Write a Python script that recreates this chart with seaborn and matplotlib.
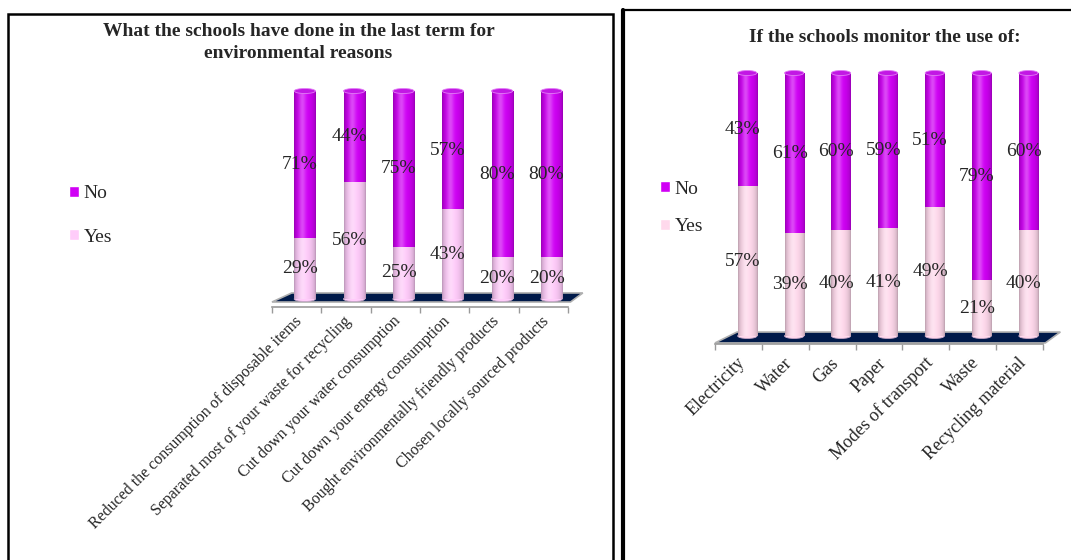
import numpy as np
import pandas as pd
import matplotlib
matplotlib.use("Agg")
from matplotlib import pyplot as plt
from matplotlib.patches import Polygon, Ellipse, Rectangle, Patch
from matplotlib.lines import Line2D
import matplotlib.colors as mcolors
import seaborn as sns

#======== Data ========#
actions = ["Reduced the consumption of disposable items",
           "Separated most of your waste for recycling",
           "Cut down your water consumption",
           "Cut down your energy consumption",
           "Bought environmentally friendly products",
           "Chosen locally sourced products"]
actions_yes = [29, 56, 25, 43, 20, 20]
actions_no = [71, 44, 75, 57, 80, 80]

monitored = ["Electricity", "Water", "Gas", "Paper",
             "Modes of transport", "Waste", "Recycling material"]
monitored_yes = [57, 39, 40, 41, 49, 21, 40]
monitored_no = [43, 61, 60, 59, 51, 79, 60]

title_left = ["What the schools have done in the last term for",
              "environmental reasons"]
title_right = "If the schools monitor the use of:"

NO_COLOR = "#D000F5"
YES_LEFT = "#FFCCFA"
YES_RIGHT = "#FFD9EC"
FLOOR = "#001A4A"
GREY = "#9A9A9A"

sns.set_style("white")
plt.rcParams['font.family'] = ['Liberation Serif', 'DejaVu Serif']


def shade(ax, container, z):
    # fake cylinder look: dark edges, light streak left of centre
    t = np.linspace(0, 1, 48)
    body = 0.72 + 0.28 * np.sin(np.pi * t) ** 0.5
    glow = 0.28 * np.exp(-((t - 0.38) / 0.16) ** 2)
    for p in container.patches:
        base = np.array(mcolors.to_rgb(p.get_facecolor()))
        rgb = base[None, :] * body[:, None]
        rgb = rgb + glow[:, None] * (1 - rgb)
        img = np.clip(rgb, 0, 1)[None, :, :]
        x0, y0, w, h = p.get_x(), p.get_y(), p.get_width(), p.get_height()
        ax.imshow(img, extent=(x0, x0 + w, y0, y0 + h), aspect="auto",
                  zorder=z, interpolation="bilinear")
        p.set_visible(False)


def panel(fig, rect, cats, yes, no, yes_color, shift, ybot, floor_y, depth,
          bar_w, cap_px, label_size, label_y):
    ax = fig.add_axes(rect)
    n = len(cats)
    df = pd.DataFrame({"cat": cats, "yes": yes,
                       "total": [a + b for a, b in zip(yes, no)]})
    sns.barplot(data=df, x="cat", y="total", color=NO_COLOR, width=bar_w,
                saturation=1, ax=ax)
    sns.barplot(data=df, x="cat", y="yes", color=yes_color, width=bar_w,
                saturation=1, ax=ax)
    shade(ax, ax.containers[0], 2)
    shade(ax, ax.containers[1], 3)

    x0, x1 = -0.5 - shift, n - 0.5 - shift
    ax.set_xlim(x0, x1)
    ax.set_ylim(ybot, 100)
    ax.set_aspect("auto")

    # px per data unit in y, to size the elliptic caps
    cap_h = cap_px / (rect[3] * 560 / (100 - ybot))

    # floor slab
    fy, by = floor_y
    floor = Polygon([(x0, fy), (x1 + 0.05, fy), (x1 + depth, by), (x0 + depth + 0.1, by)],
                    closed=True, facecolor=FLOOR, edgecolor="#B0B0B0",
                    linewidth=1.2, zorder=1, clip_on=False)
    ax.add_patch(floor)

    for i, (y, tot) in enumerate(zip(yes, df["total"])):
        ax.add_patch(Ellipse((i, tot), bar_w, cap_h, facecolor="#C218E4",
                             edgecolor="#E27CF6", linewidth=0.6, zorder=4, clip_on=False))
        ax.add_patch(Ellipse((i, 0), bar_w, cap_h, facecolor=yes_color,
                             edgecolor="#C8A8C8", linewidth=0.6, zorder=2.5, clip_on=False))
        ax.text(i - 0.1, y / 2, f"{y}%", ha="center", va="center",
                fontsize=14, zorder=6)
        ax.text(i - 0.1, y + (tot - y) / 2, f"{tot - y}%", ha="center",
                va="center", fontsize=14, zorder=6)
        ax.text(i - 0.1, label_y, cats[i], rotation=45, rotation_mode="anchor",
                ha="right", va="center", fontsize=label_size, clip_on=False)

    ax.set_xticks(np.arange(n + 1) - 0.5 - shift)
    ax.set_xticklabels([])
    ax.set_yticks([])
    ax.set_xlabel("")
    ax.set_ylabel("")
    ax.tick_params(axis="x", direction="out", length=4, width=1, color=GREY,
                   bottom=True)
    for s in ["top", "right", "left"]:
        ax.spines[s].set_visible(False)
    ax.spines["bottom"].set_color(GREY)
    ax.spines["bottom"].set_linewidth(1.2)
    return ax


fig = plt.figure(figsize=(10.71, 5.6), dpi=100)

# panel frames
fig.add_artist(Rectangle((8 / 1071, -0.2), 605 / 1071, 1.2 - 14 / 560,
                         transform=fig.transFigure, fill=False,
                         edgecolor="black", linewidth=1.8))
fig.add_artist(Line2D([623 / 1071, 623 / 1071], [-0.1, 1 - 10 / 560],
                      transform=fig.transFigure, color="black", linewidth=3))
fig.add_artist(Line2D([623 / 1071, 1.1], [1 - 10 / 560, 1 - 10 / 560],
                      transform=fig.transFigure, color="black", linewidth=1.6))

ax1 = panel(fig, [272 / 1071, 1 - 307 / 560, 296 / 1071, 216 / 560],
            actions, actions_yes, actions_no, YES_LEFT, shift=0.165,
            ybot=-3.85, floor_y=(-1.45, 2.9), depth=0.3, bar_w=0.43,
            cap_px=5, label_size=11.5, label_y=-9.5)
ax2 = panel(fig, [715 / 1071, 1 - 344 / 560, 328 / 1071, 271 / 560],
            monitored, monitored_yes, monitored_no, YES_RIGHT, shift=0.19,
            ybot=-3.05, floor_y=(-2.65, 1.5), depth=0.37, bar_w=0.41,
            cap_px=5, label_size=13, label_y=-9.3)

for line, ypx in zip(title_left, [31, 53]):
    fig.text(298.5 / 1071, 1 - ypx / 560, line, ha="center", va="center",
             fontsize=14, fontweight="bold")
fig.text(884.5 / 1071, 1 - 37 / 560, title_right,
         ha="center", va="center", fontsize=14, fontweight="bold")

# legends sit left of each plot
for yes_col, yc, yx, sp in [(YES_LEFT, 215.5, 69, 1.35), (YES_RIGHT, 208, 660, 1.05)]:
    handles = [Patch(facecolor=NO_COLOR), Patch(facecolor=yes_col)]
    fig.legend(handles, ["No", "Yes"], loc="center left",
               bbox_to_anchor=(yx / 1071, 1 - yc / 560),
               frameon=False, fontsize=14, handlelength=0.5, handleheight=0.5,
               handletextpad=0.25, labelspacing=sp, borderpad=0, borderaxespad=0)

plt.savefig("out.png", dpi=100, facecolor="white")
